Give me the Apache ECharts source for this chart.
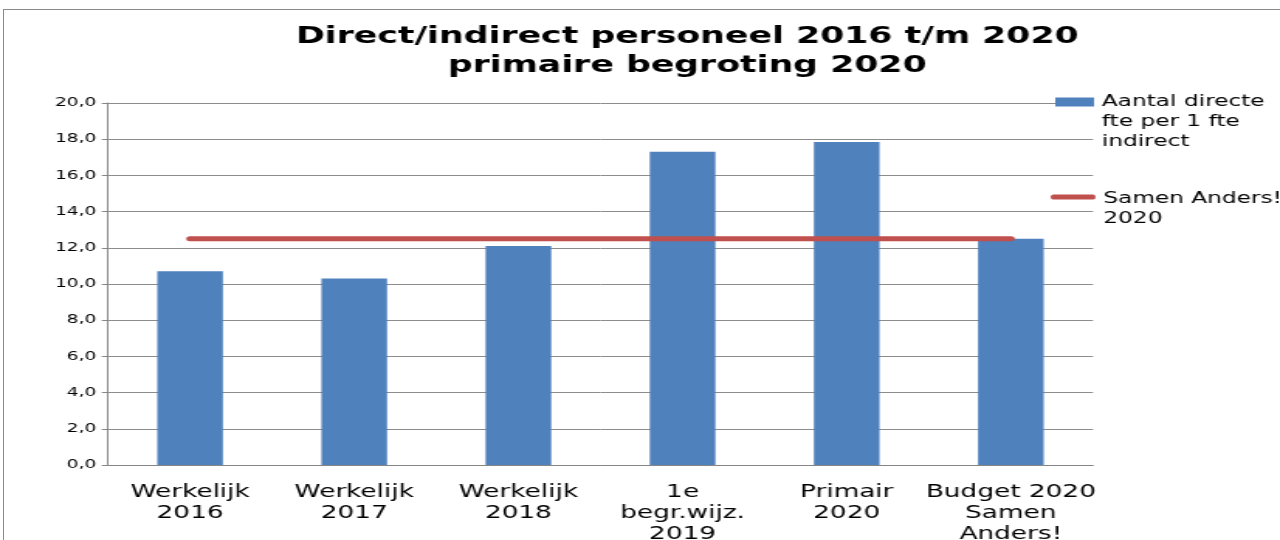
<!DOCTYPE html>
<html lang="nl" style="height: 100%">
<head>
  <meta charset="utf-8">
</head>
<body style="height: 100%; margin: 0; background: #fff; overflow: hidden">
  <div style="position: absolute; left: 3px; top: 9px; width: 1277px; height: 531px; border-left: 1px solid #8a8a8a; border-top: 1px solid #8a8a8a"></div>
  <!-- het origineel is horizontaal uitgerekt, dus de grafiek wordt smal getekend en met scaleX opgerekt -->
  <div id="container" style="position: absolute; left: 0; top: 0; width: 826px; height: 540px; transform: scaleX(1.5496); transform-origin: 0 0"></div>

<script type="text/javascript" src="https://cdn.jsdelivr.net/npm/echarts@6/dist/echarts.min.js"></script>

<script type="text/javascript">
var dom = document.getElementById('container');
var myChart = echarts.init(dom, null, { renderer: 'canvas' });

// categorieen en waarden
var categories = [
  'Werkelijk\n2016',
  'Werkelijk\n2017',
  'Werkelijk\n2018',
  '1e\nbegr.wijz.\n2019',
  'Primair\n2020',
  'Budget 2020\nSamen\nAnders!'
];
var directPerIndirect = [10.7, 10.3, 12.1, 17.3, 17.85, 12.5];
var samenAnders = [12.5, 12.5, 12.5, 12.5, 12.5, 12.5];

var font = "'DejaVu Sans', Verdana, sans-serif";

var option = {
  animation: false,
  title: {
    text: 'Direct/indirect personeel 2016 t/m 2020\nprimaire begroting 2020',
    left: 438.5,
    top: 18,
    padding: 5,
    textAlign: 'center',
    textStyle: {
      fontFamily: font,
      fontWeight: 'bold',
      fontSize: 22.4,
      lineHeight: 29,
      color: '#000'
    }
  },
  legend: [
    {
      // blokje bovenaan het icoon zodat het bij de eerste tekstregel staat
      data: ['Aantal directe\nfte per 1 fte\nindirect'],
      left: 681,
      top: 92,
      padding: 0,
      itemWidth: 25,
      itemHeight: 60,
      icon: 'path://M0,0L0.01,0M0,5.5L25,5.5L25,14.5L0,14.5ZM0,60L0.01,60',
      textStyle: { fontFamily: font, fontSize: 15, lineHeight: 20, color: '#000' }
    },
    {
      data: ['Samen Anders!\n2020'],
      left: 678,
      top: 189,
      padding: 0,
      itemWidth: 29,
      itemHeight: 40,
      icon: 'path://M0,0L0.01,0M1.6,5.5L27.4,5.5A1.6,2.5,0,0,1,27.4,10.5L1.6,10.5A1.6,2.5,0,0,1,1.6,5.5ZM0,40L0.01,40',
      textStyle: { fontFamily: font, fontSize: 15, lineHeight: 20, color: '#000' }
    }
  ],
  grid: {
    left: 69.7,
    right: 120.7,
    top: 103,
    bottom: 75,
    containLabel: false,
    outerBoundsMode: 'none'
  },
  xAxis: {
    type: 'category',
    data: categories,
    axisLine: { lineStyle: { color: '#868686' } },
    axisTick: { interval: 0, length: 8, lineStyle: { color: '#868686' } },
    axisLabel: {
      interval: 0,
      margin: 17,
      fontFamily: font,
      fontSize: 17,
      lineHeight: 21,
      color: '#000'
    }
  },
  yAxis: {
    type: 'value',
    min: 0,
    max: 20,
    interval: 2,
    axisLine: { show: true, lineStyle: { color: '#868686' } },
    axisTick: { show: true, length: 4, lineStyle: { color: '#868686' } },
    splitLine: { lineStyle: { color: '#8c8c8c', width: 1 } },
    axisLabel: {
      fontFamily: font,
      fontSize: 12,
      color: '#000',
      margin: 7.5,
      formatter: function (v) { return v.toFixed(1).replace('.', ','); }
    }
  },
  series: [
    {
      name: 'Aantal directe\nfte per 1 fte\nindirect',
      type: 'bar',
      barWidth: '40%',
      itemStyle: { color: '#4F81BD' },
      data: directPerIndirect
    },
    {
      name: 'Samen Anders!\n2020',
      type: 'line',
      symbol: 'none',
      lineStyle: { color: '#C0504D', width: 5, cap: 'round' },
      itemStyle: { color: '#C0504D' },
      data: samenAnders
    }
  ]
};

myChart.setOption(option);
window.addEventListener('resize', myChart.resize);
</script>
</body>
</html>
